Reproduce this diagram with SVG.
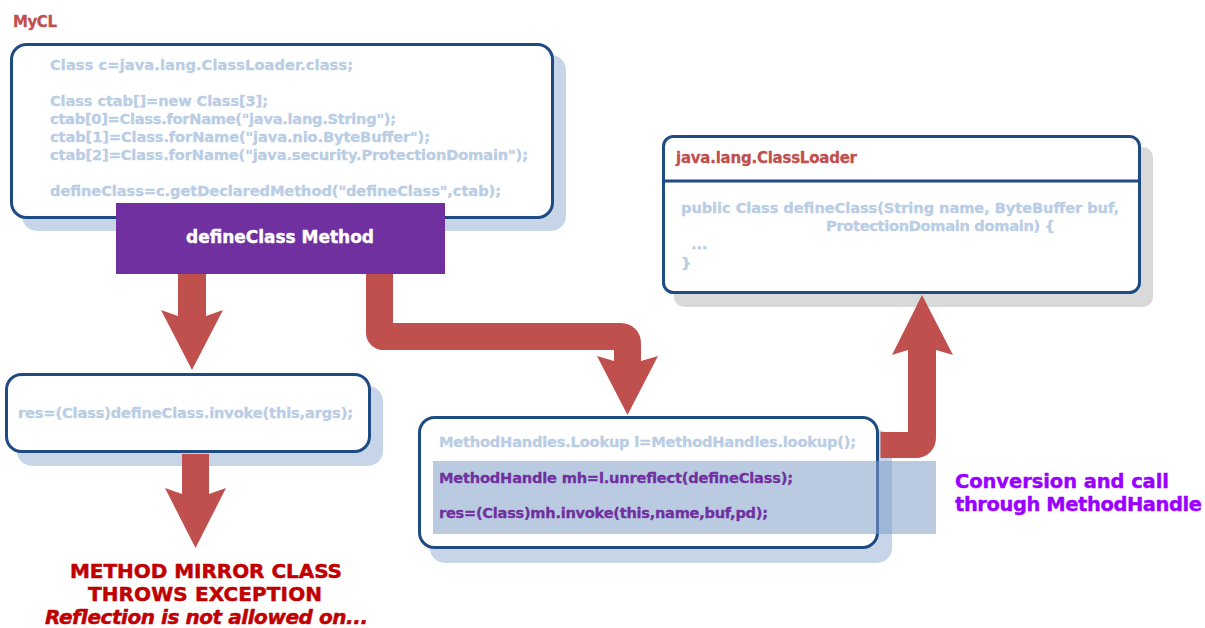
<svg xmlns="http://www.w3.org/2000/svg" width="1205" height="628" viewBox="0 0 1205 628">
  <style>
    text { font-family: "DejaVu Sans", "Liberation Sans", Arial, sans-serif; font-weight: bold; stroke-width: 0.3; stroke-linejoin: round; }
    .code { font-size: 14.6px; fill: #b9cde5; stroke: #b9cde5; }
    .box { fill: #ffffff; stroke: #1f4b85; stroke-width: 3; }
    .shadow { fill: #c6d5e7; }
    .shadow-grey { fill: #d9d9d9; }
    .arrow { fill: #c0504d; }
    .title { font-size: 15px; fill: #c0504d; stroke: #c0504d; }
    .mh { font-size: 14.6px; fill: #7030a0; stroke: #7030a0; }
    .err { font-size: 20px; fill: #c00000; stroke: #c00000; stroke-width: 0.5; }
    .note { font-size: 19.5px; fill: #9900ff; stroke: #9900ff; stroke-width: 0.4; }
    .label { font-size: 17px; fill: #ffffff; stroke: #ffffff; stroke-width: 0.4; }
  </style>

  <rect width="1205" height="628" fill="#ffffff"/>

  <!-- class loader label -->
  <text id="mycl-label" class="title" x="13" y="27" textLength="44">MyCL</text>

  <!-- reflective lookup code inside MyCL -->
  <g id="mycl-code">
    <rect class="shadow" x="22" y="55" width="544" height="176" rx="15"/>
    <rect class="box" x="11.5" y="44.5" width="541" height="173" rx="15"/>
    <text class="code" x="50" y="70" textLength="303">Class c=java.lang.ClassLoader.class;</text>
    <text class="code" x="50" y="106" textLength="218">Class ctab[]=new Class[3];</text>
    <text class="code" x="50" y="124" textLength="346">ctab[0]=Class.forName("java.lang.String");</text>
    <text class="code" x="50" y="142" textLength="380">ctab[1]=Class.forName("java.nio.ByteBuffer");</text>
    <text class="code" x="50" y="160" textLength="478">ctab[2]=Class.forName("java.security.ProtectionDomain");</text>
    <text class="code" x="50" y="196" textLength="451">defineClass=c.getDeclaredMethod("defineClass",ctab);</text>
  </g>

  <!-- the Method object -->
  <g id="define-class-method">
    <rect x="116" y="203" width="329" height="71" fill="#7030a0"/>
    <text class="label" x="186" y="243" textLength="188">defineClass Method</text>
  </g>

  <!-- plain reflective invoke -->
  <g id="reflect-invoke">
    <rect class="shadow" x="17" y="386" width="366" height="80" rx="15"/>
    <rect class="box" x="6.5" y="374.5" width="363" height="77" rx="15"/>
    <text class="code" x="18" y="418" textLength="335">res=(Class)defineClass.invoke(this,args);</text>
  </g>

  <!-- failure outcome -->
  <g id="exception">
    <text class="err" x="70" y="578" textLength="272">METHOD MIRROR CLASS</text>
    <text class="err" x="88" y="601" textLength="234">THROWS EXCEPTION</text>
    <text class="err" x="45" y="624" font-style="italic" font-size="19.5" textLength="323">Reflection is not allowed on...</text>
  </g>

  <!-- MethodHandle route -->
  <g id="method-handle">
    <rect class="shadow" x="430" y="430" width="462" height="133" rx="15"/>
    <rect class="box" x="419.5" y="417.5" width="458" height="130" rx="15"/>
    <text class="code" x="439" y="447" textLength="417">MethodHandles.Lookup l=MethodHandles.lookup();</text>
    <rect x="433" y="461" width="503" height="73" fill="#7f9fc8" fill-opacity="0.55"/>
    <text class="mh" x="439" y="483" textLength="354">MethodHandle mh=l.unreflect(defineClass);</text>
    <text class="mh" x="439" y="518" textLength="329">res=(Class)mh.invoke(this,name,buf,pd);</text>
  </g>

  <!-- target class -->
  <g id="class-loader">
    <rect class="shadow-grey" x="674" y="147" width="479" height="160" rx="10"/>
    <rect class="box" x="663.5" y="136.5" width="476" height="156" rx="10"/>
    <line x1="663.5" y1="181" x2="1139.5" y2="181" stroke="#1f4b85" stroke-width="3"/>
    <text class="title" x="676" y="163" textLength="181">java.lang.ClassLoader</text>
    <text class="code" x="681" y="213" textLength="438">public Class defineClass(String name, ByteBuffer buf,</text>
    <text class="code" x="826" y="231" textLength="229">ProtectionDomain domain) {</text>
    <text class="code" x="691" y="249">...</text>
    <text class="code" x="681" y="268">}</text>
  </g>

  <g id="note">
    <text class="note" x="955" y="488" textLength="214">Conversion and call</text>
    <text class="note" x="955" y="511" textLength="247">through MethodHandle</text>
  </g>

  <!-- block arrows -->
  <g id="connectors">
    <path class="arrow" d="M178,274 H206 V316 L223,310 L192,370 L161,310 L178,316 Z"/>
    <path class="arrow" d="M182,454 H209 V494 L226,488 L195.5,548 L165,488 L182,494 Z"/>
    <path class="arrow" d="M366,274 H393 V323 H621 A20,20 0 0 1 641,343 V361 L658,356 L627.5,415 L597,356 L614,361 V350 H383 A17,17 0 0 1 366,333 Z"/>
    <path class="arrow" d="M880.5,432 H908 V350 L892,355 L922,295 L953,355 L936,350 V438 A20,20 0 0 1 916,458 H880.5 Z"/>
  </g>
</svg>
